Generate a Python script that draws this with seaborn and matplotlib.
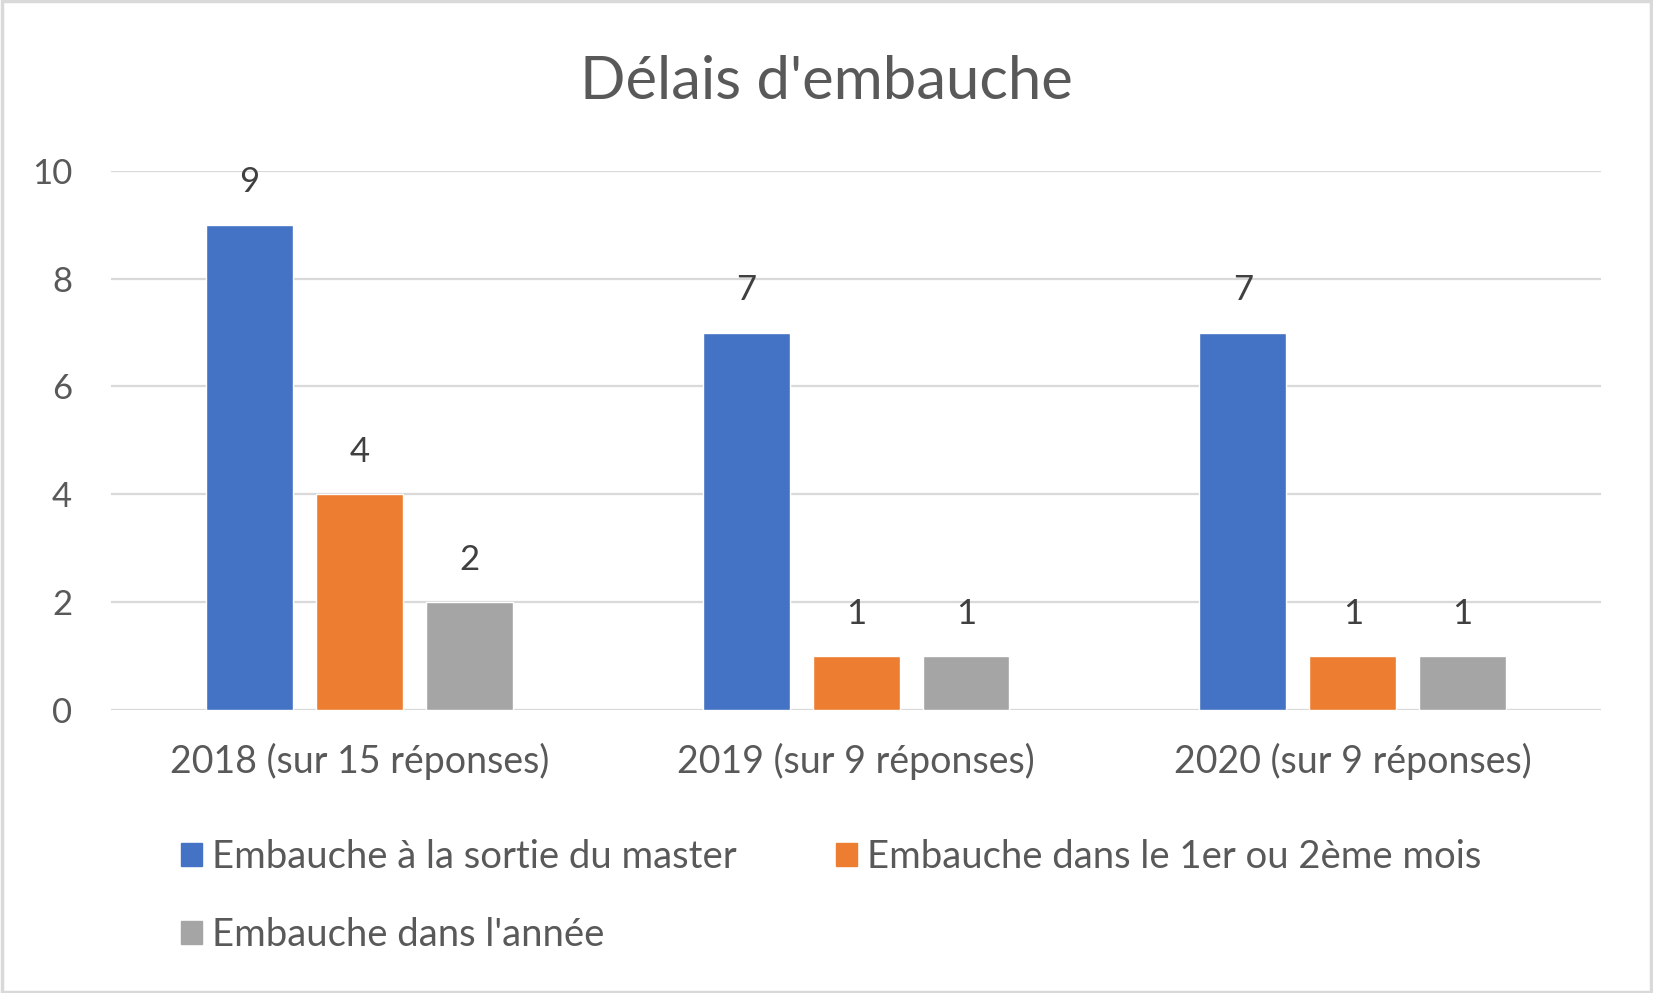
import pandas as pd
import matplotlib.pyplot as plt
import matplotlib.patches as mpatches
import seaborn as sns

# Chart values
categories = ["2018 (sur 15 réponses)", "2019 (sur 9 réponses)", "2020 (sur 9 réponses)"]
series = ["Embauche à la sortie du master",
          "Embauche dans le 1er ou 2ème mois",
          "Embauche dans l'année"]
sortie_master = [9, 7, 7]
premier_mois = [4, 1, 1]
dans_annee = [2, 1, 1]
colors = ["#4472C4", "#ED7D31", "#A5A5A5"]
yticks = [0, 2, 4, 6, 8, 10]

df = pd.DataFrame({
    "Catégorie": categories * 3,
    "Série": [series[0]] * 3 + [series[1]] * 3 + [series[2]] * 3,
    "Valeur": sortie_master + premier_mois + dans_annee,
})

sns.set_style("white")
plt.rcParams['font.family'] = ['Lato', 'DejaVu Sans']
TXT = "#595959"

fig = plt.figure(figsize=(16.53, 9.93), dpi=100, facecolor="white")
ax = fig.add_axes([0.0672, 0.285, 0.9014, 0.543])

sns.barplot(data=df, x="Catégorie", y="Valeur", hue="Série", hue_order=series,
            palette=colors, width=0.664, gap=0.21, saturation=1, ax=ax)

# data labels
for cont in ax.containers:
    ax.bar_label(cont, fmt="%g", padding=19, fontsize=25, color="#404040")

ax.set_ylim(0, 10)
ax.set_yticks(yticks)
ax.set_xlim(-0.5, 2.5)
ax.grid(axis="y", color="#D9D9D9", linewidth=1.6)
ax.set_axisbelow(True)
sns.despine(ax=ax, left=True, bottom=True)
ax.tick_params(axis="y", length=0, labelsize=25, colors=TXT, pad=28)
ax.tick_params(axis="x", length=0, labelsize=27, colors=TXT, pad=24)
ax.set_xlabel("")
ax.set_ylabel("")

fig.text(0.5, 0.917, "Délais d'embauche", ha="center", va="center", fontsize=43, color=TXT)

# legend, row order
ax.get_legend().remove()
h = [mpatches.Patch(color=c) for c in colors]
order = [0, 2, 1]
fig.legend([h[i] for i in order], [series[i] for i in order], ncol=2,
           loc="upper left", bbox_to_anchor=(0.089, 0.19), frameon=False,
           fontsize=27.5, labelcolor=TXT, handlelength=0.55, handleheight=0.55,
           handletextpad=0.25, columnspacing=2.6, labelspacing=1.12)

# light border around the chart
fig.patches.append(mpatches.Rectangle((0.001, 0.001), 0.998, 0.998, transform=fig.transFigure,
                                      fill=False, edgecolor="#D9D9D9", linewidth=2.5))

fig.savefig("out.png", dpi=100, facecolor="white")
